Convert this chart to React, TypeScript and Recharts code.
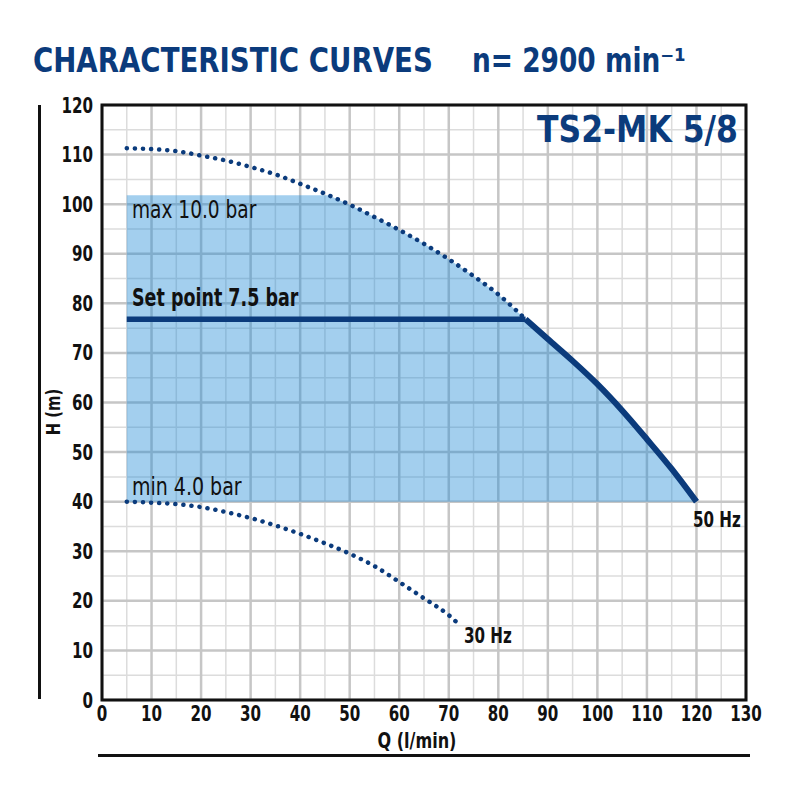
import React from 'react';
import {
  ComposedChart,
  Line,
  Area,
  XAxis,
  YAxis,
  CartesianGrid,
  ReferenceArea,
} from 'recharts';

const FONT = "'Liberation Sans Narrow', 'DejaVu Sans Condensed', 'Open Sans', sans-serif";
const NAVY = '#0b3b7c';

// axes
const qTicks = [0, 10, 20, 30, 40, 50, 60, 70, 80, 90, 100, 110, 120, 130];
const hTicks = [0, 10, 20, 30, 40, 50, 60, 70, 80, 90, 100, 110, 120];
const qMinor = [5, 15, 25, 35, 45, 55, 65, 75, 85, 95, 105, 115, 125];
const hMinor = [5, 15, 25, 35, 45, 55, 65, 75, 85, 95, 105, 115];

// 50 Hz curve, dotted part above the set point
const upperQ = [5, 10, 15, 20, 25, 30, 35, 40, 45, 50, 55, 60, 65, 70, 75, 80, 85.5];
const upperH = [111.3, 111.1, 110.7, 109.8, 108.8, 107.5, 106.0, 104.1, 102.1, 99.9, 97.4, 94.8, 92.0, 88.9, 85.5, 81.8, 76.8];

// 50 Hz curve, solid part below the set point
const curveQ = [85.5, 90, 95, 100, 105, 110, 115, 120];
const curveH = [76.8, 72.8, 68.4, 63.7, 58.4, 52.6, 46.6, 40.0];

// 30 Hz curve
const lowerQ = [5, 10, 15, 20, 25, 30, 35, 40, 45, 50, 55, 60, 65, 70, 72];
const lowerH = [40.0, 39.8, 39.5, 38.9, 37.9, 36.7, 35.2, 33.5, 31.6, 29.5, 27.0, 23.8, 20.5, 17.1, 15.3];

// set point line
const setQ = [5, 85.5];
const setH = 76.8;

// working band (min 4.0 bar .. max 10.0 bar)
const bandMin = 40;
const bandMax = 101.8;
const bandStartQ = 5;
const bandCutQ = 45.7;

const toPts = (qs: number[], hs: number[]) => qs.map((q, i) => ({ q, h: hs[i] }));

const upperData = toPts(upperQ, upperH);
const curveData = toPts(curveQ, curveH);
const lowerData = toPts(lowerQ, lowerH);
const setData = setQ.map((q) => ({ q, h: setH }));

const bandData = [
  { q: bandStartQ, r: [bandMin, bandMax] },
  { q: bandCutQ, r: [bandMin, bandMax] },
  ...upperData.filter((p) => p.q > bandCutQ).map((p) => ({ q: p.q, r: [bandMin, p.h] })),
  ...curveData.filter((p) => p.q > 85.5).map((p) => ({ q: p.q, r: [bandMin, p.h] })),
];

// text squeezed horizontally to get the narrow look of the original lettering
const txt = (
  left: number,
  top: number,
  sx: number,
  origin: string,
  extra: React.CSSProperties = {}
): React.CSSProperties => ({
  position: 'absolute',
  left,
  top,
  fontFamily: FONT,
  lineHeight: 1,
  whiteSpace: 'nowrap',
  color: '#111',
  transform: `scaleX(${sx})`,
  transformOrigin: origin,
  ...extra,
});

const NarrowTick = (props: any) => {
  const { x, y, payload, textAnchor, vertical } = props;
  return (
    <g transform={`translate(${x},${y})`}>
      <text
        transform="scale(0.8,1)"
        textAnchor={textAnchor}
        dy={vertical ? '0.36em' : '0.71em'}
        fill="#111"
        fontSize={21}
        fontWeight={700}
        fontFamily={FONT}
      >
        {payload.value}
      </text>
    </g>
  );
};

const App: React.FC = () => {
  return (
    <div style={{ position: 'absolute', left: 0, top: 0, width: 800, height: 800, background: '#fff' }}>
      <ComposedChart width={800} height={800} margin={{ top: 105, right: 54, bottom: 60, left: 42 }}>
        <CartesianGrid verticalValues={qMinor} horizontalValues={hMinor} stroke="#dcdcdc" strokeWidth={1.5} />
        <CartesianGrid verticalValues={qTicks} horizontalValues={hTicks} stroke="#c6c6c6" strokeWidth={2.5} />
        <XAxis
          type="number"
          dataKey="q"
          domain={[0, 130]}
          ticks={qTicks}
          allowDataOverflow
          height={40}
          tickLine={false}
          axisLine={false}
          tickSize={0}
          tickMargin={6}
          tick={<NarrowTick />}
        />
        <YAxis
          type="number"
          dataKey="h"
          domain={[0, 120]}
          ticks={hTicks}
          allowDataOverflow
          width={60}
          tickLine={false}
          axisLine={false}
          tickSize={0}
          tickMargin={9}
          tick={<NarrowTick vertical />}
        />
        <Area
          data={bandData}
          dataKey="r"
          type="linear"
          stroke="none"
          fill="rgb(25,135,212)"
          fillOpacity={0.4}
          isAnimationActive={false}
        />
        <Line data={upperData} dataKey="h" type="monotone" stroke={NAVY} strokeWidth={4.5}
          strokeDasharray="0.1 8" strokeLinecap="round" dot={false} isAnimationActive={false} />
        <Line data={lowerData} dataKey="h" type="monotone" stroke={NAVY} strokeWidth={4.5}
          strokeDasharray="0.1 8" strokeLinecap="round" dot={false} isAnimationActive={false} />
        <Line data={setData} dataKey="h" type="linear" stroke={NAVY} strokeWidth={5.5}
          dot={false} isAnimationActive={false} />
        <Line data={curveData} dataKey="h" type="monotone" stroke={NAVY} strokeWidth={6}
          strokeLinejoin="round" dot={false} isAnimationActive={false} />
        <ReferenceArea x1={0} x2={130} y1={0} y2={120} fill="none" fillOpacity={0} stroke="#111" strokeWidth={3} />
      </ComposedChart>

      <div style={txt(33, 44, 0.93, 'left top', { fontSize: 33, fontWeight: 700, color: NAVY })}>
        CHARACTERISTIC CURVES
      </div>
      <div style={txt(472, 44, 0.89, 'left top', { fontSize: 33, fontWeight: 700, color: NAVY })}>
        n= 2900 min⁻¹
      </div>
      <div style={txt(0, 110, 0.92, '738px 0', { width: 738, textAlign: 'right', fontSize: 38, fontWeight: 700, color: NAVY })}>
        TS2-MK 5/8
      </div>

      <div style={txt(132, 198, 0.86, 'left top', { fontSize: 24 })}>max 10.0 bar</div>
      <div style={txt(132, 286, 0.81, 'left top', { fontSize: 24, fontWeight: 700 })}>Set point 7.5 bar</div>
      <div style={txt(132, 475, 0.88, 'left top', { fontSize: 24 })}>min 4.0 bar</div>
      <div style={txt(693, 510, 0.8, 'left top', { fontSize: 21, fontWeight: 700 })}>50 Hz</div>
      <div style={txt(464, 626, 0.8, 'left top', { fontSize: 21, fontWeight: 700 })}>30 Hz</div>

      <div style={txt(0, 731, 0.85, '417px 0', { width: 834, textAlign: 'center', fontSize: 21, fontWeight: 700 })}>
        Q (l/min)
      </div>
      <div style={{ position: 'absolute', left: 53, top: 412, width: 0, height: 0 }}>
        <div
          style={{
            position: 'absolute',
            left: 0,
            top: 0,
            fontFamily: FONT,
            fontSize: 20,
            fontWeight: 700,
            lineHeight: 1,
            whiteSpace: 'nowrap',
            color: '#111',
            transform: 'translate(-50%, -50%) rotate(-90deg) scaleX(0.82)',
          }}
        >
          H (m)
        </div>
      </div>

      <div style={{ position: 'absolute', left: 38, top: 105, width: 3, height: 594, background: '#111' }} />
      <div style={{ position: 'absolute', left: 98, top: 754, width: 652, height: 3, background: '#111' }} />
    </div>
  );
};

export default App;
